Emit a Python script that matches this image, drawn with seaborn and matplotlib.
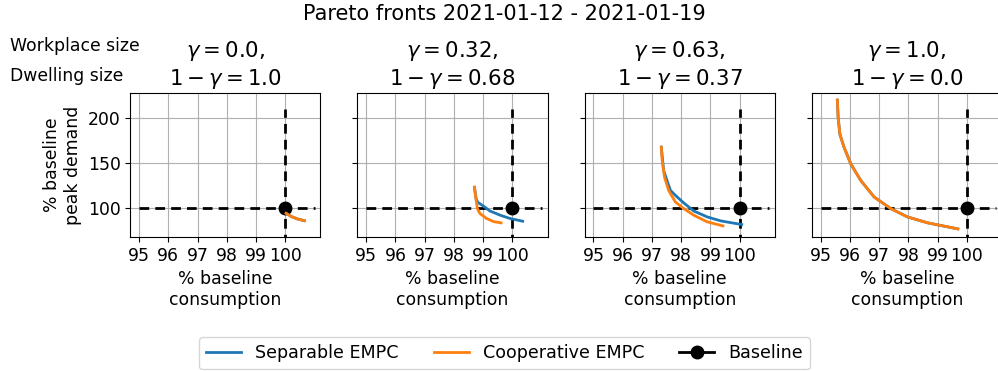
import matplotlib
matplotlib.use("Agg")
import matplotlib.pyplot as plt
import seaborn as sns
import pandas as pd
from matplotlib.lines import Line2D

# ---- data ----
gammas = ["0.0", "0.32", "0.63", "1.0"]
one_minus = ["1.0", "0.68", "0.37", "0.0"]

sep_x = [
    [100.03, 100.2, 100.4, 100.65],
    [98.70, 98.76, 98.82, 99.0, 99.23, 99.58, 99.92, 100.35],
    [97.32, 97.40, 97.63, 97.80, 98.09, 98.43, 98.89, 99.35, 100.07],
    [95.57, 95.60, 95.66, 95.80, 96.03, 96.37, 96.83, 97.40, 97.97, 98.66, 99.69],
]
sep_y = [
    [94.4, 91.0, 88.3, 86.2],
    [123.0, 110.0, 106.5, 102.6, 97.0, 92.3, 88.6, 85.6],
    [168.0, 142.0, 120.0, 114.4, 105.9, 97.0, 90.4, 86.0, 81.9],
    [220.3, 200.0, 182.0, 167.9, 149.4, 131.0, 112.5, 99.6, 90.4, 83.8, 77.1],
]
coop_x = [
    [100.03, 100.2, 100.4, 100.65],
    [98.70, 98.75, 98.80, 98.89, 99.12, 99.35, 99.61],
    [97.32, 97.35, 97.43, 97.57, 97.80, 98.09, 98.43, 98.89, 99.43],
    [95.57, 95.60, 95.66, 95.80, 96.03, 96.37, 96.83, 97.40, 97.97, 98.66, 99.69],
]
coop_y = [
    [94.4, 91.0, 88.3, 86.2],
    [123.6, 110.7, 99.6, 94.1, 88.6, 85.2, 83.8],
    [167.9, 153.1, 134.7, 119.9, 107.0, 99.6, 92.3, 84.9, 80.4],
    [220.3, 200.0, 182.0, 167.9, 149.4, 131.0, 112.5, 99.6, 90.4, 83.8, 77.1],
]
baseline_x = 100
baseline_y = 100
hline_x = [95, 101]
vline_y = [60, 210]
xticks = [95, 96, 97, 98, 99, 100]
yticks = [100, 150, 200]

blue = "#1f77b4"
orange = "#ff7f0e"
FS = 12.4

fig, axes = plt.subplots(1, 4, figsize=(9.98, 3.71), dpi=100, sharey=True)
fig.subplots_adjust(left=0.1305, right=1.004, top=0.749, bottom=0.361, wspace=0.195)

for i, ax in enumerate(axes):
    ax.set_axisbelow(True)
    ax.grid(True, color="#b0b0b0", linewidth=0.8)
    ax.plot(hline_x, [baseline_y, baseline_y], color="black", linestyle="--", linewidth=2, dashes=(3.5, 2.2))
    ax.plot([baseline_x, baseline_x], vline_y, color="black", linestyle="--", linewidth=2, dashes=(3.5, 2.2))
    ax.plot([baseline_x], [baseline_y], marker="o", color="black", markersize=9, linestyle="none")
    d1 = pd.DataFrame({"x": sep_x[i], "y": sep_y[i]})
    d2 = pd.DataFrame({"x": coop_x[i], "y": coop_y[i]})
    sns.lineplot(data=d1, x="x", y="y", sort=False, color=blue, linewidth=2, ax=ax)
    sns.lineplot(data=d2, x="x", y="y", sort=False, color=orange, linewidth=2, ax=ax)
    ax.set_xlim(94.7, 101.2)
    ax.set_ylim(68, 228)
    ax.set_xticks(xticks)
    ax.set_xticklabels([str(t) for t in xticks], fontsize=FS)
    ax.set_yticks(yticks)
    ax.tick_params(axis="y", labelsize=FS)
    ax.set_xlabel("% baseline\nconsumption", fontsize=FS)
    ax.set_ylabel("")
    ax.set_title(rf"$\gamma = {gammas[i]}$," + "\n" + rf"$1 - \gamma = {one_minus[i]}$", fontsize=15.3)

axes[0].set_ylabel("% baseline\npeak demand", fontsize=FS)

fig.suptitle("Pareto fronts 2021-01-12 - 2021-01-19", fontsize=15, x=0.505, y=0.99)
fig.text(0.01, 0.876, "Workplace size", fontsize=FS, va="center", ha="left")
fig.text(0.01, 0.795, "Dwelling size", fontsize=FS, va="center", ha="left")

handles = [
    Line2D([0], [0], color=blue, linewidth=2),
    Line2D([0], [0], color=orange, linewidth=2),
    Line2D([0], [0], color="black", linewidth=2, marker="o", markersize=9),
]
fig.legend(handles, ["Separable EMPC", "Cooperative EMPC", "Baseline"], loc="center",
           bbox_to_anchor=(0.5055, 0.048), ncol=3, fontsize=12.6, frameon=True)

fig.savefig("out.png", dpi=100)
